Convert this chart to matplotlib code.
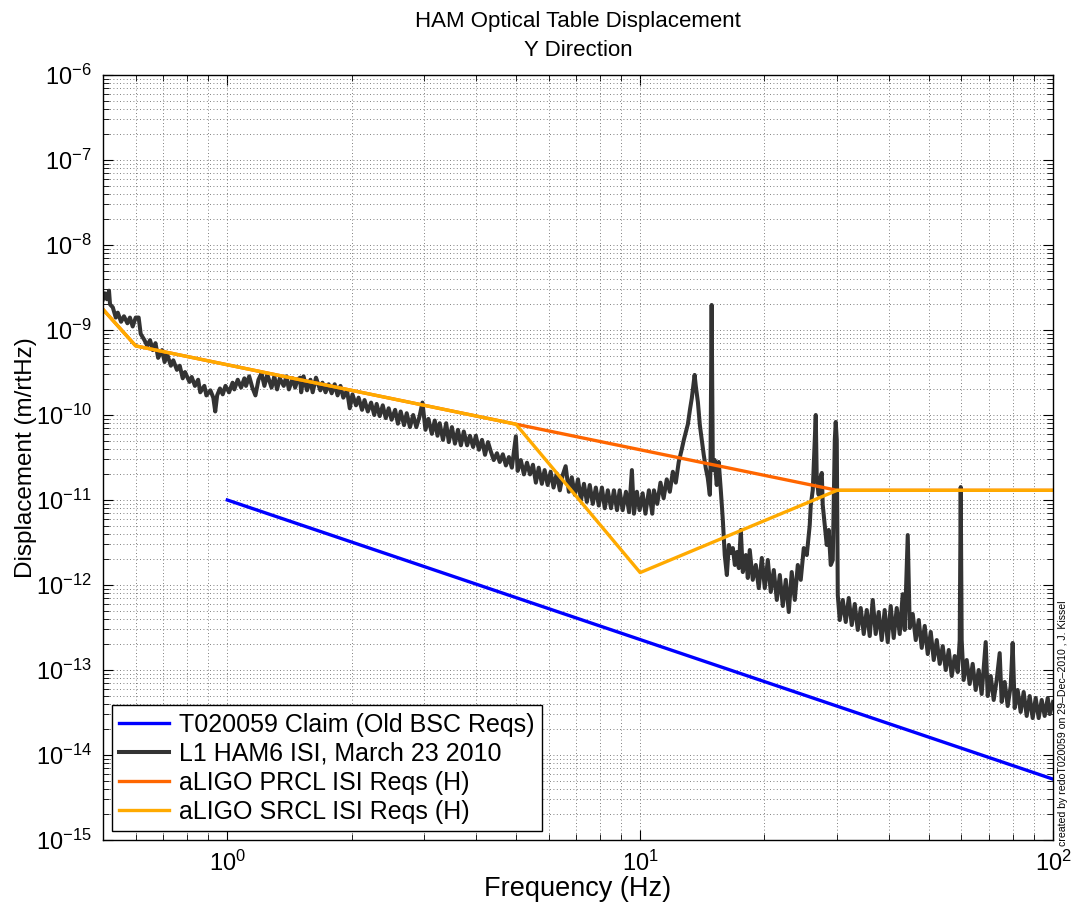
import matplotlib
matplotlib.use("Agg")
import matplotlib.pyplot as plt
import numpy as np
from matplotlib.ticker import FixedLocator, LogLocator, FuncFormatter

plt.rcParams['font.family'] = ['Liberation Sans', 'DejaVu Sans']
plt.rcParams['mathtext.fontset'] = 'custom'
plt.rcParams['mathtext.rm'] = 'Liberation Sans'
plt.rcParams['mathtext.it'] = 'Liberation Sans'

# old BSC claim (straight line in log-log)
claim_freq = [1.0, 100.0]
claim_disp = [1.0e-11, 5.2e-15]

# aLIGO requirements
prcl_freq = [0.5, 0.6, 30.0, 100.0]
prcl_disp = [1.75e-9, 6.5e-10, 1.3e-11, 1.3e-11]
srcl_freq = [0.5, 0.6, 5.0, 10.0, 30.0, 100.0]
srcl_disp = [1.75e-9, 6.5e-10, 7.8e-11, 1.4e-12, 1.3e-11, 1.3e-11]

isi_freq = [
    0.50, 0.505, 0.511, 0.517, 0.52, 0.528, 0.537, 0.543, 0.553, 0.562,
    0.573, 0.581, 0.59, 0.60, 0.61, 0.617, 0.63, 0.64, 0.65, 0.66,
    0.67, 0.68, 0.695, 0.705, 0.715, 0.73, 0.74, 0.755, 0.767, 0.78,
    0.79, 0.81, 0.82, 0.835, 0.85, 0.86, 0.88, 0.89, 0.91, 0.925,
    0.935, 0.945, 0.96, 0.975, 0.99, 1.01, 1.03, 1.04, 1.06, 1.08,
    1.10, 1.11, 1.13, 1.15, 1.17, 1.19, 1.21, 1.23, 1.25, 1.28,
    1.30, 1.32, 1.34, 1.37, 1.39, 1.41, 1.44, 1.46, 1.48,
    1.50, 1.51, 1.53, 1.56, 1.59, 1.61, 1.64, 1.68, 1.70, 1.73,
    1.76, 1.79, 1.82, 1.85, 1.88, 1.91, 1.95, 1.98, 2.01, 2.05,
    2.08, 2.12, 2.15, 2.19, 2.23, 2.27, 2.30, 2.34, 2.38, 2.42,
    2.46, 2.50, 2.55, 2.59, 2.63, 2.68, 2.72, 2.77, 2.82, 2.87,
    2.92, 2.97, 3.02, 3.07, 3.13, 3.18, 3.23, 3.27, 3.33, 3.39,
    3.44, 3.50, 3.56, 3.62, 3.68, 3.74, 3.81, 3.87, 3.94, 4.00,
    4.07, 4.14, 4.21, 4.28,
    4.35, 4.42, 4.50, 4.57, 4.65, 4.73, 4.81, 4.89, 5.00, 5.05,
    5.14, 5.23, 5.32, 5.41, 5.50, 5.59, 5.68, 5.78, 5.87, 5.97,
    6.07, 6.17, 6.28, 6.39, 6.49, 6.60, 6.72, 6.83, 6.95, 7.07,
    7.19, 7.31, 7.43, 7.55, 7.68, 7.81, 7.94, 8.08, 8.21, 8.35,
    8.50, 8.64, 8.79, 8.92, 9.07, 9.24, 9.40, 9.55, 9.66, 9.82,
    9.97, 10.14, 10.3, 10.5, 10.7, 10.8, 11.0, 11.2, 11.4, 11.6,
    11.8, 12.0, 12.2, 12.4,
    12.6, 12.76, 12.9, 13.05, 13.2, 13.34, 13.49, 13.55, 13.64, 13.8,
    13.95, 14.1, 14.26, 14.42, 14.58, 14.75, 14.8, 14.9, 15.0, 15.15,
    15.33, 15.5, 15.68, 15.86, 16.03, 16.22, 16.4, 16.58, 16.77, 16.96,
    17.15, 17.34, 17.53, 17.73, 18.03, 18.23, 18.43, 18.74, 19.06, 19.38,
    19.71, 20.04, 20.38, 20.72, 21.07, 21.43, 21.79, 22.16, 22.53, 22.91,
    23.29, 23.69, 24.09, 24.49, 24.91, 25.33, 25.75, 25.9, 26.19, 26.63,
    26.78, 27.07, 27.23, 27.54, 27.69, 28.0, 28.31, 28.63, 28.95, 29.28,
    29.61, 29.77, 29.94, 30.11, 30.44, 30.96, 31.48, 32.01, 32.55, 33.10,
    33.66, 34.22, 34.80, 35.39, 35.98, 36.59, 37.20, 37.83, 38.47, 39.11,
    39.78, 40.45, 41.13, 41.83, 42.53, 43.25, 43.74, 44.48, 44.98, 45.74,
    46.51, 47.29, 48.09, 48.90, 49.73, 50.57, 51.42, 52.29, 53.17, 54.06,
    54.98, 55.91, 56.85, 57.81, 58.79, 59.43, 59.77, 60.09, 60.76, 61.80,
    62.83, 63.89, 64.97, 66.07, 67.18, 68.71, 69.47, 70.65, 71.84, 73.05,
    74.28, 75.11, 76.38, 77.67, 78.98, 79.86, 80.75, 82.11, 83.50, 84.91,
    86.35, 87.80, 89.29, 90.79, 92.32, 93.89, 95.46, 97.1, 98.2, 100.0,
]
isi_disp = [
    2.3e-9, 2.7e-9, 2.3e-9, 2.9e-9, 2.0e-9, 1.85e-9, 1.4e-9, 1.6e-9, 1.25e-9, 1.45e-9,
    1.2e-9, 1.4e-9, 1.1e-9, 1.4e-9, 1.4e-9, 9.0e-10, 7.6e-10, 6.5e-10, 7.6e-10, 5.8e-10,
    7.0e-10, 4.7e-10, 5.8e-10, 4.2e-10, 5.2e-10, 3.8e-10, 4.4e-10, 3.4e-10, 3.8e-10, 2.7e-10,
    3.2e-10, 2.45e-10, 2.8e-10, 2.2e-10, 2.6e-10, 1.85e-10, 2.2e-10, 1.7e-10, 1.95e-10, 1.6e-10,
    1.1e-10, 1.7e-10, 2.05e-10, 1.75e-10, 2.2e-10, 1.85e-10, 2.4e-10, 2.0e-10, 2.6e-10, 2.1e-10,
    2.7e-10, 2.2e-10, 2.85e-10, 2.1e-10, 1.7e-10, 2.6e-10, 3.1e-10, 2.2e-10, 3.0e-10, 2.1e-10,
    2.85e-10, 2.0e-10, 2.7e-10, 2.2e-10, 2.85e-10, 2.0e-10, 2.7e-10, 2.1e-10, 2.6e-10,
    2.75e-10, 1.85e-10, 2.85e-10, 1.95e-10, 2.6e-10, 1.85e-10, 2.75e-10, 1.95e-10, 2.4e-10, 1.85e-10,
    2.3e-10, 1.8e-10, 2.3e-10, 1.7e-10, 2.2e-10, 1.6e-10, 1.95e-10, 1.2e-10, 1.75e-10, 1.3e-10,
    1.6e-10, 1.15e-10, 1.5e-10, 1.1e-10, 1.4e-10, 1.0e-10, 1.35e-10, 9.7e-11, 1.3e-10, 9.2e-11,
    1.2e-10, 8.8e-11, 1.15e-10, 7.9e-11, 1.1e-10, 7.6e-11, 1.05e-10, 7.2e-11, 1.0e-10, 7.2e-11,
    9.5e-11, 1.4e-10, 6.7e-11, 9.0e-11, 6.0e-11, 8.6e-11, 5.7e-11, 8.0e-11, 5.1e-11, 8.0e-11,
    4.8e-11, 7.2e-11, 4.6e-11, 6.7e-11, 4.4e-11, 6.4e-11, 4.4e-11, 5.7e-11, 4.2e-11, 5.7e-11,
    3.9e-11, 5.1e-11, 3.4e-11, 4.8e-11,
    3.7e-11, 2.95e-11, 3.55e-11, 2.8e-11, 3.45e-11, 2.55e-11, 3.2e-11, 2.4e-11, 5.6e-11, 2.2e-11,
    2.95e-11, 2.0e-11, 2.75e-11, 2.0e-11, 2.6e-11, 1.6e-11, 2.4e-11, 1.55e-11, 2.25e-11, 1.5e-11,
    2.15e-11, 1.4e-11, 2.05e-11, 1.3e-11, 1.95e-11, 2.5e-11, 1.25e-11, 1.85e-11, 1.15e-11, 1.75e-11,
    1.0e-11, 1.55e-11, 9.5e-12, 1.5e-11, 9.0e-12, 1.4e-11, 8.6e-12, 1.4e-11, 8.0e-12, 1.3e-11,
    8.0e-12, 1.3e-11, 7.6e-12, 1.3e-11, 7.6e-12, 1.25e-11, 7.2e-12, 2.25e-11, 6.9e-12, 1.25e-11,
    7.6e-12, 1.2e-11, 6.9e-12, 1.3e-11, 6.9e-12, 1.3e-11, 9.0e-12, 1.6e-11, 1.05e-11, 1.75e-11,
    1.25e-11, 2.15e-11, 1.6e-11, 2.8e-11,
    3.87e-11, 5.1e-11, 6.3e-11, 7.8e-11, 1.15e-10, 1.58e-10, 2.44e-10, 2.96e-10, 2.19e-10, 1.42e-10,
    7.63e-11, 5.08e-11, 3.38e-11, 2.38e-11, 1.82e-11, 1.15e-11, 2.25e-11, 1.97e-9, 2.25e-11, 2.96e-11,
    1.5e-11, 2.8e-11, 1.31e-11, 5.8e-12, 2.25e-12, 1.31e-12, 2.96e-12, 2.38e-12, 2.72e-12, 1.72e-12,
    2.44e-12, 1.58e-12, 4.44e-12, 1.42e-12, 2.25e-12, 1.21e-12, 2.58e-12, 1.15e-12, 1.72e-12, 9.2e-13,
    2.08e-12, 9.2e-13, 1.97e-12, 8.28e-13, 1.5e-12, 6.67e-13, 1.31e-12, 5.66e-13, 1.15e-12, 4.81e-13,
    1.42e-12, 6.67e-13, 1.72e-12, 1.15e-12, 2.72e-12, 2.25e-12, 5.08e-12, 8.7e-12, 1.31e-11, 1.0e-10,
    1.72e-11, 1.15e-11, 1.72e-11, 2.08e-11, 8.7e-12, 5.08e-12, 2.96e-12, 4.44e-12, 1.72e-12, 1.97e-12,
    5.08e-11, 8.28e-11, 5.08e-11, 7.6e-13, 3.87e-13, 6.67e-13, 3.67e-13, 7.03e-13, 3.38e-13, 5.98e-13,
    2.96e-13, 5.36e-13, 2.65e-13, 5.08e-13, 2.51e-13, 6.67e-13, 2.65e-13, 4.81e-13, 2.25e-13, 5.08e-13,
    2.13e-13, 5.66e-13, 2.38e-13, 5.36e-13, 2.65e-13, 7.8e-13, 2.96e-13, 3.87e-12, 3.12e-13, 4.56e-13,
    2.25e-13, 3.87e-13, 1.82e-13, 3.3e-13, 1.54e-13, 2.8e-13, 1.31e-13, 2.25e-13, 1.18e-13, 1.91e-13,
    1.0e-13, 1.72e-13, 8.5e-14, 1.46e-13, 9.47e-14, 2.25e-13, 1.42e-11, 2.25e-13, 7.63e-14, 1.31e-13,
    6.84e-14, 1.18e-13, 5.82e-14, 1.0e-13, 5.22e-14, 2.13e-13, 4.94e-14, 8.5e-14, 4.44e-14, 7.63e-14,
    1.58e-13, 4.21e-14, 7.23e-14, 3.77e-14, 6.48e-14, 2.08e-13, 3.57e-14, 5.82e-14, 3.21e-14, 5.51e-14,
    2.88e-14, 4.94e-14, 2.72e-14, 4.69e-14, 2.72e-14, 4.44e-14, 2.88e-14, 4.69e-14, 3.03e-14, 4.21e-14,
]

labels = ['T020059 Claim (Old BSC Reqs)', 'L1 HAM6 ISI, March 23 2010',
          'aLIGO PRCL ISI Reqs (H)', 'aLIGO SRCL ISI Reqs (H)']

fig = plt.figure(figsize=(10.74, 9.11), dpi=100)
ax = fig.add_axes([103 / 1074, 1 - 840 / 911, 950 / 1074, 765 / 911])

ax.loglog(claim_freq, claim_disp, color='#0000ff', lw=2.4, label=labels[0])
ax.loglog(isi_freq, isi_disp, color='#333333', lw=2.9, label=labels[1])
ax.loglog(prcl_freq, prcl_disp, color='#ff6600', lw=2.4, label=labels[2])
ax.loglog(srcl_freq, srcl_disp, color='#ffaa00', lw=2.4, label=labels[3])

ax.set_xlim(0.5, 100)
ax.set_ylim(1e-15, 1e-6)

ax.xaxis.set_major_locator(FixedLocator([1, 10, 100]))
ax.yaxis.set_major_locator(FixedLocator([10.0 ** k for k in range(-15, -5)]))
ax.xaxis.set_minor_locator(LogLocator(base=10, subs=np.arange(2, 10), numticks=20))
ax.yaxis.set_minor_locator(LogLocator(base=10, subs=np.arange(2, 10), numticks=20))
pow_fmt = FuncFormatter(lambda v, p: r'$\mathregular{10^{%d}}$' % int(round(np.log10(v))))
ax.xaxis.set_major_formatter(pow_fmt)
ax.yaxis.set_major_formatter(pow_fmt)

ax.tick_params(which='both', direction='in', top=True, right=True, labelsize=17)
ax.tick_params(which='major', length=7, width=0.8)
ax.tick_params(which='minor', length=4, width=0.6)
ax.tick_params(axis='x', pad=8)
ax.tick_params(axis='y', pad=8)

ax.grid(True, which='both', linestyle=(0, (1, 3)), color='#555555', linewidth=0.6)
for s in ax.spines.values():
    s.set_linewidth(1.0)

ax.set_xlabel('Frequency (Hz)', fontsize=19.5, labelpad=0)
ax.set_ylabel('Displacement (m/rtHz)', fontsize=17.5)
ax.yaxis.set_label_coords(-0.069, 0.5)
ax.set_title('HAM Optical Table Displacement\nY Direction', fontsize=16, pad=14, linespacing=1.5)

leg = ax.legend(loc='lower left', fontsize=18, frameon=True, fancybox=False,
                framealpha=1, edgecolor='black', borderpad=0.3, labelspacing=0.2,
                handlelength=2.0, handletextpad=0.4, borderaxespad=0.35)
leg.get_frame().set_linewidth(1.0)

fig.text(0.99, 1 - 846 / 911, 'created by redoT020059 on 29\u2013Dec\u20132010 , J. Kissel',
         rotation=90, fontsize=7.6, ha='center', va='bottom')

fig.savefig('out.png', dpi=100)
